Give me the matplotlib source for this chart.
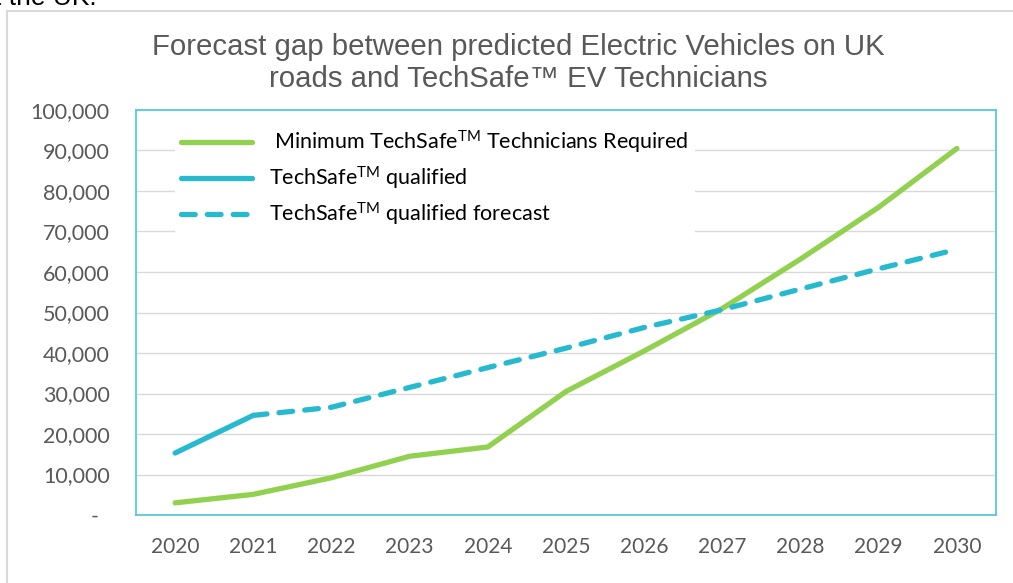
import matplotlib
matplotlib.use("Agg")
from matplotlib import pyplot as plt
from matplotlib.patches import Rectangle

years = ["2020", "2021", "2022", "2023", "2024", "2025", "2026", "2027", "2028", "2029", "2030"]
min_required = [3000, 5100, 9200, 14500, 16800, 30500, 40500, 51000, 63200, 76000, 90500]
qualified = [15300, 24600]
qualified_forecast = [24600, 26600, 31500, 36400, 41200, 46300, 50700, 55800, 60800, 65600]

GREEN = "#92D050"
BLUE = "#27BACE"
GREY_TXT = "#595959"

plt.rcParams["mathtext.fontset"] = "custom"
plt.rcParams["mathtext.rm"] = "Lato"
plt.rcParams["mathtext.it"] = "Lato:italic"

fig = plt.figure(figsize=(10.13, 5.83), dpi=100)
ax = fig.add_axes([136 / 1013, 68 / 583, 860 / 1013, 405 / 583])

x = list(range(len(years)))
ax.plot(x, min_required, color=GREEN, lw=3.8, solid_capstyle="round",
        label=" Minimum TechSafe$^{\\mathrm{TM}}$ Technicians Required", zorder=3)
ax.plot(x[:len(qualified)], qualified, color=BLUE, lw=3.8, solid_capstyle="round",
        label="TechSafe$^{\\mathrm{TM}}$ qualified", zorder=3)
ax.plot(x[1:], qualified_forecast, color=BLUE, lw=3.8, dash_capstyle="round",
        linestyle=(0, (2.6, 2.3)),
        label="TechSafe$^{\\mathrm{TM}}$ qualified forecast", zorder=3)

ax.set_xlim(-0.5, len(years) - 0.5)
ax.set_ylim(0, 100000)
ax.set_xticks(x)
ax.set_xticklabels(years)
yt = list(range(0, 100001, 10000))
ax.set_yticks(yt)
ax.set_yticklabels(["-  " if v == 0 else f"{v:,}" for v in yt])

ax.grid(axis="y", color="#D9D9D9", lw=1.0, zorder=0)
ax.set_axisbelow(True)
ax.tick_params(length=0, labelsize=15.5, labelcolor=GREY_TXT)
ax.tick_params(axis="y", pad=19)
ax.tick_params(axis="x", labelsize=15, pad=16)
for lab in ax.get_xticklabels() + ax.get_yticklabels():
    lab.set_fontfamily("Lato")
for s in ax.spines.values():
    s.set_color("#5BC8DC")
    s.set_linewidth(1.3)

leg = ax.legend(loc="upper left", bbox_to_anchor=(0.045, 0.97), frameon=True,
                prop={"family": "Lato", "size": 15.5}, handlelength=3.3,
                handletextpad=0.8, labelspacing=0.42, borderpad=0.3,
                borderaxespad=0)
leg.get_frame().set_facecolor("white")
leg.get_frame().set_edgecolor("none")
leg.get_frame().set_alpha(1)
for t in leg.get_texts():
    t.set_color("black")

fig.text(518 / 1013, 1 - 33 / 583,
         "Forecast gap between predicted Electric Vehicles on UK\nroads and TechSafe\u2122 EV Technicians",
         ha="center", va="top", fontsize=21.2, color=GREY_TXT,
         family="Liberation Sans", linespacing=1.18)

# outer chart border and the cut-off text line above it
fig.patches.append(Rectangle((7 / 1013, -0.1), 1.1, 1 - 11 / 583 + 0.1,
                             transform=fig.transFigure, fill=False,
                             edgecolor="#D9D9D9", lw=1.5))
fig.text(-6 / 1013, 1 - 5 / 583, "t the UK.", ha="left", va="baseline",
         fontsize=19, color="black", family="Liberation Sans")

fig.savefig("out.png", dpi=100)
